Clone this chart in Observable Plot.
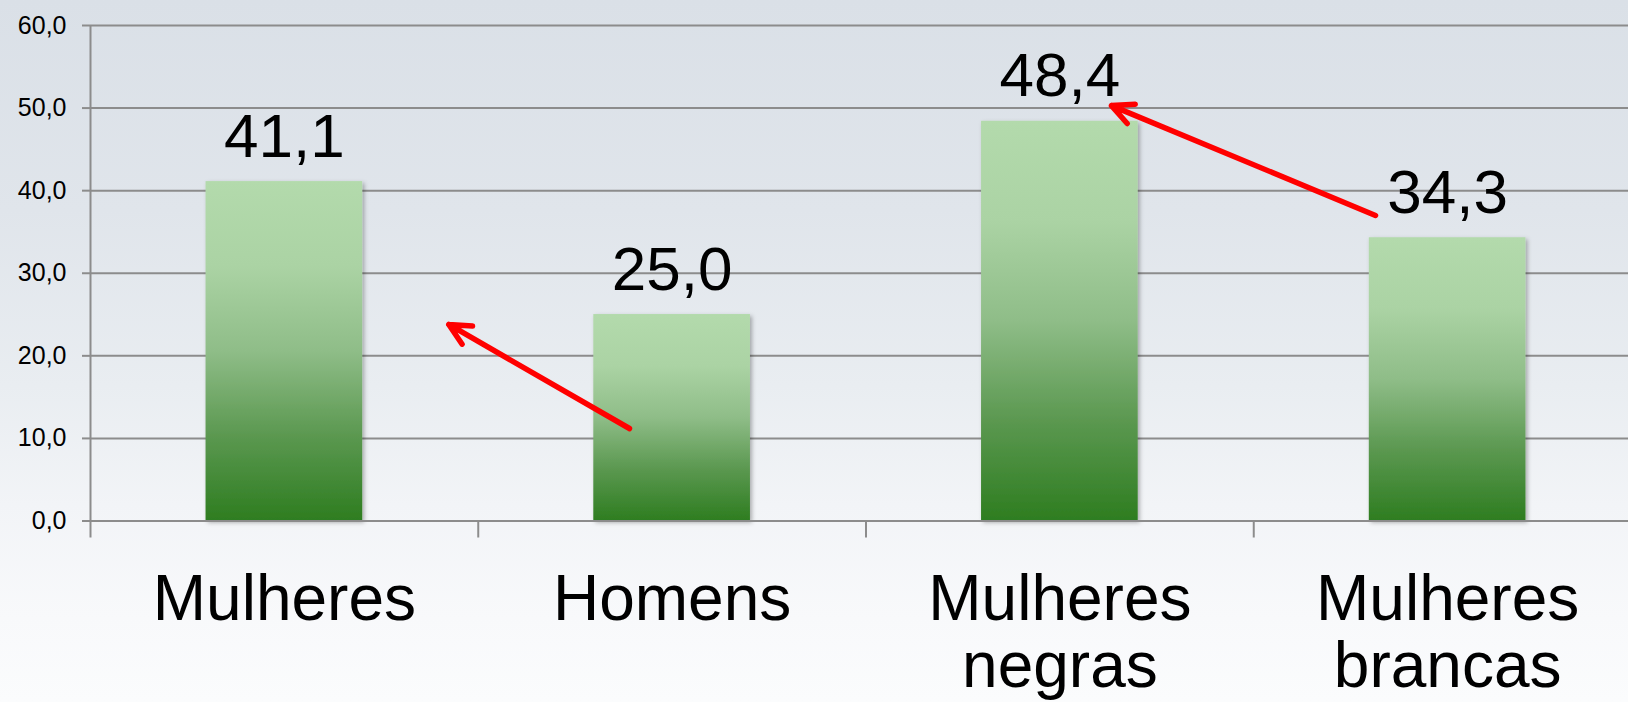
<!DOCTYPE html>
<html>
<head>
<meta charset="utf-8">
<script src="https://cdn.jsdelivr.net/npm/d3@7"></script>
<script src="https://cdn.jsdelivr.net/npm/@observablehq/plot@0.6"></script>
<style>
  html, body { margin: 0; padding: 0; width: 1628px; height: 702px; overflow: hidden; }
  body {
    background: linear-gradient(180deg, #dae0e7 0%, #e0e5eb 30%, #e9edf1 55%, #f2f4f7 72%, #f8f9fb 88%, #fbfcfd 100%);
    font-family: "Liberation Sans", Arial, sans-serif;
  }
  #chart svg { display: block; background: transparent; }
</style>
</head>
<body>
<div id="chart"></div>
<script>
// ---- data ----
const categories = ["Mulheres", "Homens", "Mulheres negras", "Mulheres brancas"];
const categoryLabels = ["Mulheres", "Homens", "Mulheres\nnegras", "Mulheres\nbrancas"];
const values = [41.1, 25.0, 48.4, 34.3];
const yTicks = [0, 10, 20, 30, 40, 50, 60];
// annotation arrows, in chart coordinates (x in category units, y in data units)
const arrowX1 = [1.39, 3.314];
const arrowY1 = [11.2, 37.0];
const arrowX2 = [0.924, 2.633];
const arrowY2 = [23.8, 50.3];

const bars = categories.map((c, i) => ({category: c, index: i, value: values[i]}));
const arrows = arrowX1.map((x, i) => ({x1: x, y1: arrowY1[i], x2: arrowX2[i], y2: arrowY2[i]}));
const centers = categories.map((c, i) => i + 0.5);
const bounds = categories.map((c, i) => i);
const fmt = d => d.toFixed(1).replace(".", ",");
const gridColor = "#8c8c8c";

const chart = Plot.plot({
  width: 1628,
  height: 702,
  marginLeft: 90,
  marginRight: 0,
  marginTop: 25,
  marginBottom: 181.5,
  style: {fontFamily: "'Liberation Sans', Arial, sans-serif", background: "transparent", overflow: "visible"},
  x: {type: "linear", domain: [0, categories.length], range: [90, 1641]},
  y: {domain: [0, 60]},
  marks: [
    Plot.ruleY(yTicks.filter(d => d > 0), {y: d => d, stroke: gridColor, strokeWidth: 2}),
    Plot.rect(bars, {
      x1: d => d.index + 0.298,
      x2: d => d.index + 0.702,
      y1: 0,
      y2: "value",
      fill: "url(#barGrad)"
    }),
    Plot.ruleY([0], {stroke: gridColor, strokeWidth: 2}),
    Plot.ruleX([0], {y1: 0, y2: 60, stroke: gridColor, strokeWidth: 2}),
    Plot.axisY({
      ticks: yTicks,
      tickFormat: fmt,
      tickSize: 8,
      tickPadding: 16,
      fontSize: 25,
      stroke: gridColor,
      strokeWidth: 2,
      fill: "#000",
      label: null
    }),
    Plot.axisX({
      ticks: bounds,
      tickSize: 17,
      tickFormat: () => "",
      stroke: gridColor,
      strokeWidth: 2,
      label: null
    }),
    Plot.axisX({
      ticks: centers,
      tickFormat: d => categoryLabels[Math.floor(d)],
      tickSize: 0,
      tickPadding: 51,
      fontSize: 64,
      lineHeight: 1.05,
      fill: "#000",
      label: null
    }),
    Plot.text(bars, {
      x: d => d.index + 0.5,
      y: "value",
      text: d => fmt(d.value),
      dy: -25,
      lineAnchor: "bottom",
      fontSize: 62,
      fill: "#000"
    }),
    Plot.arrow(arrows, {
      x1: "x1", y1: "y1", x2: "x2", y2: "y2",
      stroke: "#ff0000",
      strokeWidth: 5.5,
      headAngle: 52,
      headLength: 6.5
    })
  ]
});

// gradient + shadow definitions
const defs = d3.select(chart).insert("defs", ":first-child");
const grad = defs.append("linearGradient").attr("id", "barGrad").attr("x1", 0).attr("y1", 0).attr("x2", 0).attr("y2", 1);
[[0, "#b3daac"], [0.25, "#abd3a4"], [0.5, "#8fbd88"], [0.75, "#5b9850"], [1, "#2e7d20"]].forEach(([o, c]) =>
  grad.append("stop").attr("offset", o).attr("stop-color", c));
const filt = defs.append("filter").attr("id", "shadow").attr("x", "-10%").attr("y", "-10%").attr("width", "130%").attr("height", "130%");
filt.append("feDropShadow").attr("dx", 2).attr("dy", 2).attr("stdDeviation", 2).attr("flood-color", "#000").attr("flood-opacity", 0.3);
d3.select(chart).selectAll("rect").filter(function() { return this.getAttribute("fill") === "url(#barGrad)" || (this.parentNode && this.parentNode.getAttribute("fill") === "url(#barGrad)"); })
  .attr("filter", "url(#shadow)");

document.getElementById("chart").appendChild(chart);
</script>
</body>
</html>
